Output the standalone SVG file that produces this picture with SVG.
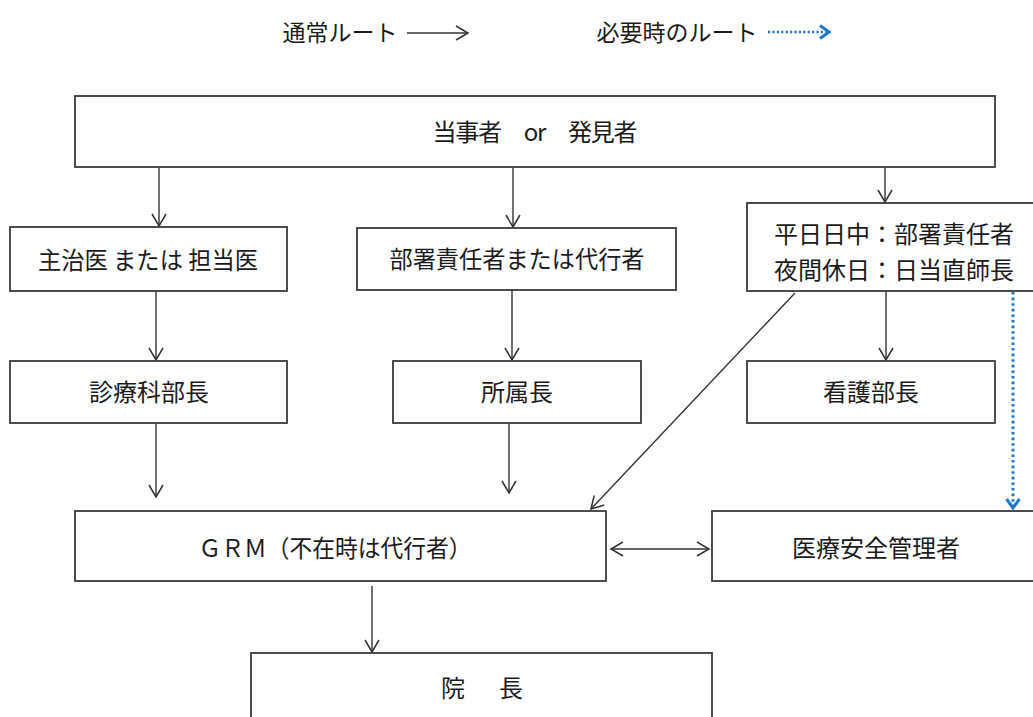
<svg xmlns="http://www.w3.org/2000/svg" width="1033" height="717" viewBox="0 0 1033 717">
<style>
text{font-family:"Noto Sans CJK JP","Noto Sans",sans-serif;font-size:24px;fill:#1a1a1a;text-anchor:middle;dominant-baseline:central}
.lg{font-size:23px}
.box{fill:#fff;stroke:#3a3a3a;stroke-width:1.8}
.c{fill:none;stroke:#333;stroke-width:1.4;marker-end:url(#ah)}
.d{fill:none;stroke:#2378c8;stroke-width:3;stroke-dasharray:2.6 3;marker-end:url(#bh)}
</style>
<defs>
<marker id="ah" markerUnits="userSpaceOnUse" viewBox="-14 -9 16 18" markerWidth="16" markerHeight="18" refX="0" refY="0" orient="auto-start-reverse">
<path d="M-12,-7 L0,0 L-12,7" fill="none" stroke="#333" stroke-width="1.5"/>
</marker>
<marker id="bh" markerUnits="userSpaceOnUse" viewBox="-12 -9 14 18" markerWidth="14" markerHeight="18" refX="0" refY="0" orient="auto">
<path d="M-9,-6.5 L0,0 L-9,6.5" fill="none" stroke="#2378c8" stroke-width="3"/>
</marker>
</defs>
<rect width="1033" height="717" fill="#fff"/>
<g id="legend">
<text class="lg" x="340" y="31">通常ルート</text>
<line class="c" x1="407" y1="33" x2="468" y2="33"/>
<text class="lg" x="677" y="31">必要時のルート</text>
<line class="d" x1="768" y1="32" x2="829" y2="32" style="stroke-width:2.6;stroke-dasharray:2.2 2.2"/>
</g>
<g id="connectors">
<line class="c" x1="159" y1="167" x2="159" y2="226"/>
<line class="c" x1="513" y1="167" x2="513" y2="227"/>
<line class="c" x1="885" y1="167" x2="885" y2="202"/>
<line class="c" x1="156" y1="291" x2="156" y2="360"/>
<line class="c" x1="512" y1="290" x2="512" y2="360"/>
<line class="c" x1="886" y1="291" x2="886" y2="360"/>
<line class="c" x1="156" y1="423" x2="156" y2="497"/>
<line class="c" x1="509" y1="423" x2="509" y2="493"/>
<line class="c" x1="795" y1="293" x2="591" y2="509"/>
<line class="c" x1="611" y1="549" x2="709" y2="549" style="marker-start:url(#ah)"/>
<line class="c" x1="372" y1="586" x2="372" y2="652"/>
<line class="d" x1="1013" y1="292" x2="1013" y2="508"/>
</g>
<g id="n1"><rect class="box" x="75" y="96" width="920" height="71"/><text x="535" y="130" textLength="205" lengthAdjust="spacing">当事者　or　発見者</text></g>
<g id="n2"><rect class="box" x="10" y="227" width="277" height="64"/><text x="148" y="258" textLength="220" lengthAdjust="spacingAndGlyphs">主治医 または 担当医</text></g>
<g id="n3"><rect class="box" x="357" y="228" width="319" height="62"/><text x="517" y="257" textLength="255" lengthAdjust="spacingAndGlyphs">部署責任者または代行者</text></g>
<g id="n4"><rect class="box" x="747" y="203" width="293" height="88"/><text x="894" y="232">平日日中：部署責任者</text><text x="894" y="268">夜間休日：日当直師長</text></g>
<g id="n5"><rect class="box" x="10" y="361" width="277" height="62"/><text x="149" y="390">診療科部長</text></g>
<g id="n6"><rect class="box" x="393" y="361" width="248" height="62"/><text x="517" y="390">所属長</text></g>
<g id="n7"><rect class="box" x="747" y="361" width="248" height="62"/><text x="871" y="390">看護部長</text></g>
<g id="n8"><rect class="box" x="75" y="511" width="531" height="70"/><text x="335" y="546" textLength="273" lengthAdjust="spacingAndGlyphs">ＧＲＭ（不在時は代行者）</text></g>
<g id="n9"><rect class="box" x="712" y="511" width="328" height="70"/><text x="876" y="546">医療安全管理者</text></g>
<g id="n10"><rect class="box" x="251" y="653" width="461" height="72"/><text x="482" y="686" textLength="82" lengthAdjust="spacing">院　長</text></g>
</svg>
